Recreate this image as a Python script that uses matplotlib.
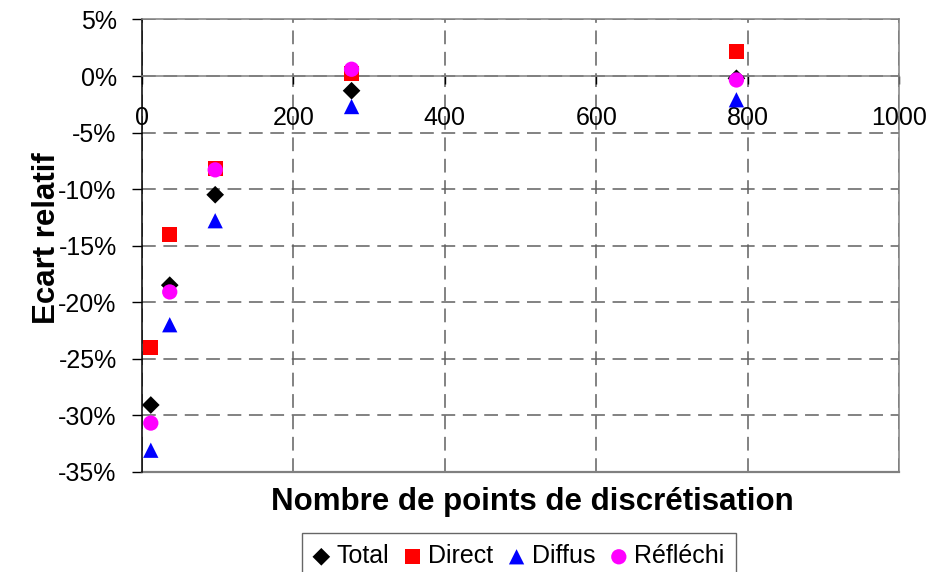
import matplotlib
matplotlib.use("Agg")
import matplotlib.pyplot as plt
from matplotlib.ticker import FuncFormatter, MultipleLocator

plt.rcParams['font.family'] = ['Liberation Sans', 'DejaVu Sans']

# Values (relative error, in %)
n_points = [12, 37, 97, 277, 785]
total = [-29.1, -18.5, -10.5, -1.3, -0.2]
direct = [-24.0, -14.0, -8.2, 0.2, 2.2]
diffus = [-33.1, -22.0, -12.8, -2.7, -2.1]
reflechi = [-30.7, -19.1, -8.3, 0.6, -0.35]

fig = plt.figure(figsize=(9.3, 5.72), dpi=100)
ax = fig.add_axes([0.15237, 0.17535, 0.81462, 0.79056])

grid_kw = dict(color='#606060', linewidth=1.1, linestyle=(0, (9, 5)))
ax.grid(True, **grid_kw)
ax.set_axisbelow(True)

ax.scatter(n_points, total, marker='D', s=9**2, c='black', edgecolors='none',
           label='Total', zorder=3)
ax.scatter(n_points, direct, marker='s', s=11**2, c='red', edgecolors='none',
           label='Direct', zorder=3)
ax.scatter(n_points, diffus, marker='^', s=11**2, c='blue', edgecolors='none',
           label='Diffus', zorder=3)
ax.scatter(n_points, reflechi, marker='o', s=11**2, c='magenta', edgecolors='none',
           label='Réfléchi', zorder=3)

ax.set_xlim(0, 1000)
ax.set_ylim(-35, 5)
ax.xaxis.set_major_locator(MultipleLocator(200))
ax.yaxis.set_major_locator(MultipleLocator(5))
ax.yaxis.set_major_formatter(FuncFormatter(lambda v, p: f"{v:.0f}%"))

# x axis crosses at 0 %, plot area border in grey
ax.spines['bottom'].set_position(('data', 0))
ax.spines['bottom'].set_color('#808080')
ax.spines['top'].set_color('#808080')
ax.spines['right'].set_color('#808080')
ax.spines['left'].set_color('black')
for sp in ax.spines.values():
    sp.set_linewidth(1.1)
ax.axhline(-35, color='#808080', linewidth=1.6, clip_on=False, zorder=2)

ax.tick_params(axis='y', direction='out', length=7.2, width=1, color='black',
               pad=10.8, labelsize=18)
ax.tick_params(axis='x', direction='out', length=5.8, width=1, color='black',
               pad=16, labelsize=18)

fig.text(0.572, 0.108, 'Nombre de points de discrétisation', ha='center',
         va='baseline', fontsize=22.5, fontweight='bold')
fig.text(0.051, 0.584, 'Ecart relatif', ha='center', va='center',
         rotation=90, fontsize=22.5, fontweight='bold')

leg = fig.legend(loc='upper center', bbox_to_anchor=(0.558, 0.068), ncol=4,
                 fontsize=18, frameon=True, fancybox=False, borderaxespad=0,
                 handlelength=0.65, handletextpad=0.3, columnspacing=0.6,
                 borderpad=0.45, markerscale=1.0)
leg.get_frame().set_edgecolor('#404040')
leg.get_frame().set_linewidth(1.0)

fig.savefig('out.png', dpi=100)
